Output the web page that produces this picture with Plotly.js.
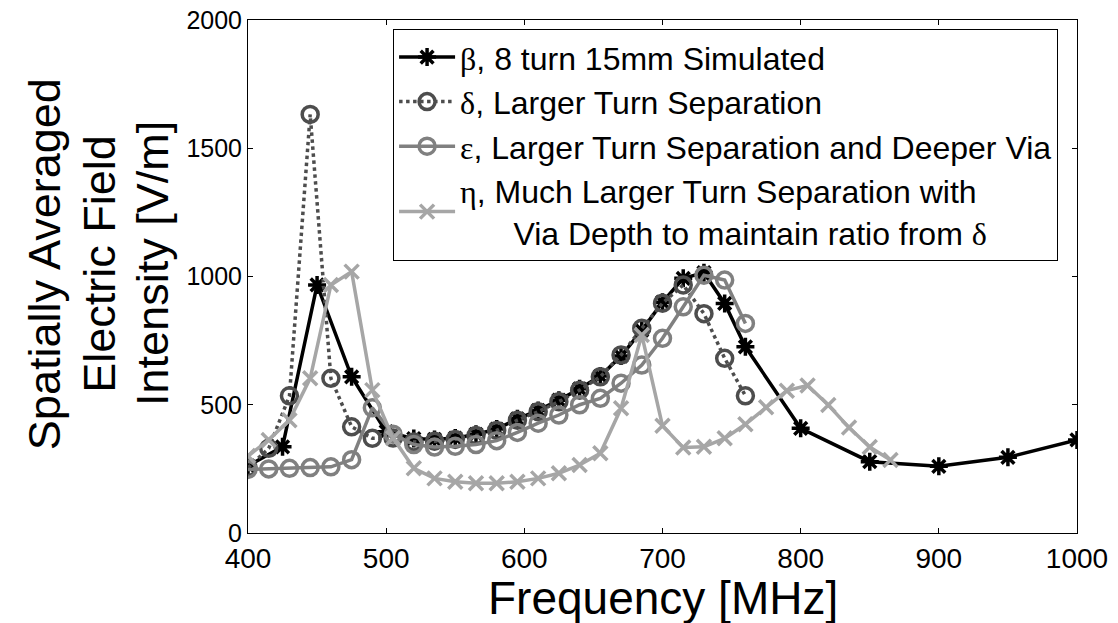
<!DOCTYPE html>
<html>
<head>
<meta charset="utf-8">
<script src="https://cdn.plot.ly/plotly-3.0.1.min.js"></script>
<style>html,body{margin:0;padding:0;background:#fff;}#chart{width:1118px;height:623px;}</style>
</head>
<body>
<div id="chart"></div>
<script>
// Frequencies [MHz] and spatially averaged field [V/m]
const betaFreq = [400, 425, 450, 475, 500, 520, 535, 550, 565, 580, 595, 610, 625, 640, 655, 670, 685, 700, 715, 730, 745, 760, 800, 850, 900, 950, 1000];
const betaVal  = [262, 336, 967, 609, 395, 368, 365, 370, 385, 405, 445, 478, 518, 562, 612, 690, 790, 900, 993, 1015, 895, 726, 408, 278, 260, 295, 363];

const deltaFreq = [400, 415, 430, 445, 460, 475, 490, 505, 520, 535, 550, 565, 580, 595, 610, 625, 640, 655, 670, 685, 700, 715, 730, 745, 760];
const deltaVal  = [255, 330, 535, 1632, 603, 414, 369, 370, 355, 358, 365, 380, 400, 440, 473, 512, 557, 609, 694, 798, 896, 967, 855, 681, 535];

const epsFreq = [400, 415, 430, 445, 460, 475, 490, 505, 520, 535, 550, 565, 580, 595, 610, 625, 640, 655, 670, 685, 700, 715, 730, 745, 760];
const epsVal  = [248, 250, 252, 255, 258, 286, 488, 385, 345, 335, 338, 345, 360, 392, 428, 460, 500, 525, 584, 655, 759, 882, 1005, 986, 817];

const etaFreq = [400, 415, 430, 445, 460, 475, 490, 505, 520, 535, 550, 565, 580, 595, 610, 625, 640, 655, 670, 685, 700, 715, 730, 745, 760, 775, 790, 805, 820, 835, 850, 865];
const etaVal  = [300, 363, 440, 603, 967, 1019, 557, 370, 252, 213, 200, 194, 194, 200, 213, 233, 265, 311, 486, 772, 418, 333, 336, 369, 424, 490, 555, 575, 499, 411, 335, 285];

const xTicks = [400, 500, 600, 700, 800, 900, 1000];
const yTicks = [0, 500, 1000, 1500, 2000];

const xTitle = 'Frequency [MHz]';
const yTitleLines = ['Spatially Averaged', 'Electric Field', 'Intensity [V/m]'];

const G = (s) => '<span style="font-family:Liberation Serif,Times New Roman,serif">' + s + '</span>';
const names = [
  G('β') + ', 8 turn 15mm Simulated',
  G('δ') + ', Larger Turn Separation',
  G('ε') + ', Larger Turn Separation and Deeper Via',
  G('η') + ', Much Larger Turn Separation with<br>      Via Depth to maintain ratio from ' + G('δ')
];

const traces = [
  {x: betaFreq, y: betaVal, name: names[0], mode: 'lines+markers',
   line: {color: '#000000', width: 3.5},
   marker: {symbol: 'asterisk-open', size: 15, line: {color: '#000000', width: 3.5}}},
  {x: deltaFreq, y: deltaVal, name: names[1], mode: 'lines+markers',
   line: {color: '#4d4d4d', width: 3.5, dash: 'dot'},
   marker: {symbol: 'circle-open', size: 16, color: '#4d4d4d', line: {color: '#4d4d4d', width: 3.5}}},
  {x: epsFreq, y: epsVal, name: names[2], mode: 'lines+markers',
   line: {color: '#808080', width: 3.5},
   marker: {symbol: 'circle-open', size: 16, color: '#808080', line: {color: '#808080', width: 3.5}}},
  {x: etaFreq, y: etaVal, name: names[3], mode: 'lines+markers',
   line: {color: '#a6a6a6', width: 3.5},
   marker: {symbol: 'x-thin-open', size: 14, color: '#a6a6a6', line: {color: '#a6a6a6', width: 3.5}}}
];

const font = 'Liberation Sans, Arial, sans-serif';
const yLineX = [-0.2455, -0.1785, -0.1155];
const annotations = yTitleLines.map((t, i) => ({
  text: t, xref: 'paper', yref: 'paper', x: yLineX[i], y: 0.525,
  xanchor: 'center', yanchor: 'middle', textangle: -90, showarrow: false,
  font: {family: font, size: 45, color: '#000'}
}));
annotations.push({
  text: xTitle, xref: 'paper', yref: 'paper', x: 0.5, y: -0.126,
  xanchor: 'center', yanchor: 'middle', showarrow: false,
  font: {family: font, size: 46, color: '#000'}
});

const layout = {
  width: 1118, height: 623,
  margin: {l: 248, r: 41, t: 20, b: 90},
  paper_bgcolor: '#ffffff', plot_bgcolor: '#ffffff',
  font: {family: font, color: '#000000', size: 24},
  showlegend: true,
  legend: {
    x: 0.175, y: 0.983, xanchor: 'left', yanchor: 'top',
    bordercolor: '#000000', borderwidth: 1, bgcolor: '#ffffff',
    font: {family: font, size: 32, color: '#000000'},
    itemwidth: 56, tracegroupgap: 0
  },
  xaxis: {
    range: [400, 1000], tickvals: xTicks, ticktext: xTicks.map(String),
    ticks: 'inside', ticklen: 5, tickcolor: '#000', showline: true, linecolor: '#000', linewidth: 1,
    mirror: 'ticks', showgrid: false, zeroline: false,
    tickfont: {family: font, size: 28}
  },
  yaxis: {
    range: [0, 2000], tickvals: yTicks, ticktext: yTicks.map(String),
    ticks: 'inside', ticklen: 5, tickcolor: '#000', showline: true, linecolor: '#000', linewidth: 1,
    mirror: 'ticks', showgrid: false, zeroline: false,
    tickfont: {family: font, size: 25}
  },
  annotations: annotations
};

Plotly.newPlot('chart', traces, layout, {displayModeBar: false, staticPlot: true});
</script>
</body>
</html>
